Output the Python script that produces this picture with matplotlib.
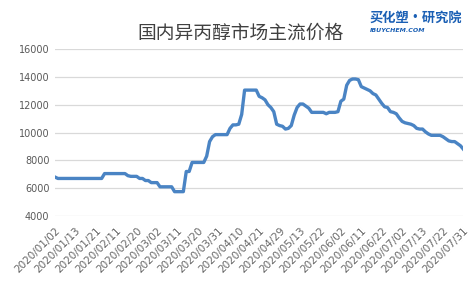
import numpy as np
import matplotlib
matplotlib.use('Agg')
import matplotlib.pyplot as plt

plt.rcParams['font.family'] = ['Noto Sans CJK SC', 'DejaVu Sans']

# daily prices (yuan/t), category axis
price = [6800] + [6700]*16 + [7050]*8 + \
    [6900, 6850, 6850, 6850, 6700, 6700, 6550, 6550, 6400, 6400, 6400,
     6100, 6100, 6100, 6100, 6100, 5750, 5750, 5750, 5750] + \
    [7200, 7200, 7850, 7850, 7850, 7850, 7850, 8300, 9350, 9700,
     9850, 9850, 9850, 9850, 9850, 10300, 10550, 10550, 10600, 11300] + \
    [13050, 13050, 13050, 13050, 13050, 12600, 12500, 12350, 12000, 11800,
     11500, 10600, 10500, 10450, 10250, 10300, 10500, 11250, 11800, 12050,
     12050, 11900, 11750, 11450, 11450, 11450, 11450, 11450, 11350, 11450,
     11450, 11450, 11500, 12250, 12400, 13400, 13750, 13850, 13850, 13800,
     13300, 13200, 13100, 13000, 12800, 12700, 12400, 12100, 11850, 11800,
     11500, 11450, 11350, 11050, 10800, 10700, 10650, 10600, 10500, 10300,
     10250, 10250, 10050, 9900, 9800, 9800, 9800, 9800, 9700, 9550,
     9400, 9350, 9350, 9200, 9050, 8800]

tick_labels = ['2020/01/02', '2020/01/13', '2020/01/21', '2020/02/11', '2020/02/20',
               '2020/03/02', '2020/03/11', '2020/03/20', '2020/03/31', '2020/04/10',
               '2020/04/21', '2020/04/29', '2020/05/13', '2020/05/22', '2020/06/02',
               '2020/06/11', '2020/06/22', '2020/07/02', '2020/07/13', '2020/07/22',
               '2020/07/31']
yticks = [4000, 6000, 8000, 10000, 12000, 14000, 16000]

x = np.arange(len(price))

fig = plt.figure(figsize=(4.76, 2.82), dpi=100)
ax = fig.add_axes([0.1155, 0.234, 0.858, 0.592])
ax.plot(x, price, color='#4a84c4', linewidth=2.4, solid_joinstyle='round')

ax.set_xlim(0, len(price) - 1)
ax.set_ylim(4000, 16000)
ax.set_yticks(yticks)
ax.set_yticklabels([str(v) for v in yticks], fontsize=7, color='#595959', family='DejaVu Sans')
ax.set_xticks(x[::7])
ax.set_xticklabels(tick_labels, rotation=45, ha='right', rotation_mode='anchor',
                   fontsize=7.5, color='#666666', family='DejaVu Sans')
ax.tick_params(axis='y', length=0, pad=4)
ax.tick_params(axis='x', length=0, pad=7)
ax.grid(axis='y', color='#d9d9d9', linewidth=0.9)
ax.set_axisbelow(True)
for s in ax.spines.values():
    s.set_visible(False)

fig.text(0.506, 0.883, '国内异丙醇市场主流价格', ha='center', va='center',
         fontsize=13.5, fontweight='medium', color='#404040')
fig.text(0.777, 0.936, '买化塑·研究院', ha='left', va='center', fontsize=9.5,
         fontweight='bold', style='italic', color='#1a5fb4')
fig.text(0.777, 0.893, 'IBUYCHEM.COM', ha='left', va='center', fontsize=4.5,
         fontweight='bold', style='italic', color='#1a5fb4', family='DejaVu Sans')

fig.savefig('out.png', dpi=100)
